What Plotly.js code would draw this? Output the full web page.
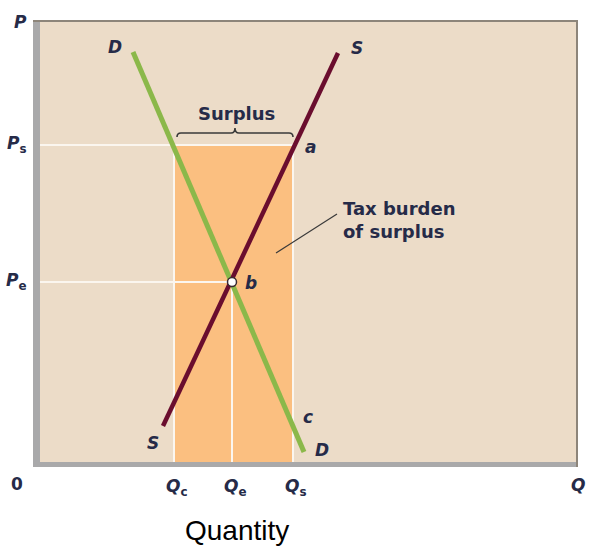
<!DOCTYPE html>
<html>
<head>
<meta charset="utf-8">
<script src="https://cdn.plot.ly/plotly-3.0.1.min.js"></script>
<style>html,body{margin:0;padding:0;background:#fff;}#chart{width:589px;height:551px;}</style>
</head>
<body>
<div id="chart"></div>
<script>
// ---- data (abstract units: quantity 0..537, price 0..441) ----
const qNames = ['c', 'e', 's'];
const qValues = [134, 192, 253];          // Qc, Qe, Qs
const pNames = ['s', 'e'];
const pValues = [317, 180];               // Ps, Pe
const demandQ = [93, 264];
const demandP = [410, 10];
const supplyQ = [123, 298];
const supplyP = [36, 409];
const pointNames = ['a', 'b', 'c'];
const pointQ = [253, 192, 253];
const pointP = [317, 180, 36];
const xMax = 537, yMax = 441;

const Qc = qValues[0], Qe = qValues[1], Qs = qValues[2];
const Ps = pValues[0], Pe = pValues[1];

const navy = '#262b48';
const fam = 'DejaVu Sans';
const white = '#fbf6ef';

const traces = [
  {x:[Qc,Qs,Qs,Qc,Qc], y:[0,0,Ps,Ps,0], mode:'lines', fill:'toself', fillcolor:'#fbbf80', line:{width:0}, hoverinfo:'skip'},
  {x:[0,Qs], y:[Ps,Ps], mode:'lines', line:{color:white,width:2}, hoverinfo:'skip'},
  {x:[0,Qe], y:[Pe,Pe], mode:'lines', line:{color:white,width:2}, hoverinfo:'skip'},
  {x:[Qc,Qc], y:[0,Ps], mode:'lines', line:{color:white,width:2}, hoverinfo:'skip'},
  {x:[Qe,Qe], y:[0,Pe], mode:'lines', line:{color:white,width:2}, hoverinfo:'skip'},
  {x:[Qs,Qs], y:[0,Ps], mode:'lines', line:{color:white,width:2}, hoverinfo:'skip'},
  {x:demandQ, y:demandP, mode:'lines', line:{color:'#8bb84a',width:5}, hoverinfo:'skip'},
  {x:supplyQ, y:supplyP, mode:'lines', line:{color:'#6a0d2e',width:4.5}, hoverinfo:'skip'},
  {x:[pointQ[1]], y:[pointP[1]], mode:'markers', marker:{size:9,color:'#ffffff',line:{color:'#3a2a30',width:1.5}}, hoverinfo:'skip'}
];

const px = v => (v - 40) / xMax;       // pixel x -> paper
const py = v => (462 - v) / yMax;      // pixel y -> paper
const lbl = (t, extra) => Object.assign({text:t, showarrow:false, font:{family:fam,size:17,color:navy}, xanchor:'center', yanchor:'middle'}, extra);

const annotations = [
  lbl('<b><i>P</i></b>', {xref:'paper', yref:'paper', x:px(20), y:py(22)}),
  lbl('<b>0</b>', {xref:'paper', yref:'paper', x:px(17), y:py(484)}),
  lbl('<b><i>Q</i></b>', {xref:'paper', yref:'paper', x:px(578), y:py(485)}),
  lbl('Quantity', {xref:'paper', yref:'paper', x:px(236.5), y:py(530), font:{family:'Liberation Sans',size:28,color:'#000'}}),
  lbl('<b>Surplus</b>', {xref:'x', yref:'y', x:196, y:349, font:{family:fam,size:18,color:navy}}),
  lbl('<b>Tax burden<br>of surplus</b>', {xref:'x', yref:'y', x:301, y:242, xanchor:'left', align:'left', font:{family:fam,size:18,color:navy}}),
  lbl('<b><i>D</i></b>', {xref:'x', yref:'y', x:demandQ[0]-18, y:demandP[0]+5}),
  lbl('<b><i>S</i></b>', {xref:'x', yref:'y', x:supplyQ[1]+19, y:supplyP[1]+5}),
  lbl('<b><i>S</i></b>', {xref:'x', yref:'y', x:supplyQ[0]-10, y:supplyP[0]-17}),
  lbl('<b><i>D</i></b>', {xref:'x', yref:'y', x:demandQ[1]+18, y:demandP[1]+2}),
  lbl('<b><i>' + pointNames[0] + '</i></b>', {xref:'x', yref:'y', x:pointQ[0]+17, y:pointP[0]-2}),
  lbl('<b><i>' + pointNames[1] + '</i></b>', {xref:'x', yref:'y', x:pointQ[1]+19, y:pointP[1]-1}),
  lbl('<b><i>' + pointNames[2] + '</i></b>', {xref:'x', yref:'y', x:pointQ[2]+15, y:pointP[2]+9})
];
qValues.forEach((q, i) => {
  annotations.push(lbl('<b><i>Q</i></b><sub><b>' + qNames[i] + '</b></sub>', {xref:'x', yref:'paper', x:q, y:py(487), xshift:3}));
});
pValues.forEach((p, i) => {
  annotations.push(lbl('<b><i>P</i></b><sub><b>' + pNames[i] + '</b></sub>', {xref:'paper', yref:'y', x:px(17), y:p, yshift:1}));
});

const bx0 = Qc + 3, bx1 = Qs, bm = (bx0 + bx1) / 2, by = 329;
const bracePath = `M ${bx0},${by-4} Q ${bx0},${by} ${bx0+4},${by} L ${bm-4},${by} Q ${bm},${by} ${bm},${by+5} Q ${bm},${by} ${bm+4},${by} L ${bx1-4},${by} Q ${bx1},${by} ${bx1},${by-4}`;

const shapes = [
  {type:'rect', xref:'paper', yref:'paper', x0:px(33), x1:px(40), y0:py(467), y1:py(20), fillcolor:'#a9a9aa', line:{width:0}},
  {type:'rect', xref:'paper', yref:'paper', x0:px(33), x1:px(578), y0:py(467), y1:py(462), fillcolor:'#a9a9aa', line:{width:0}},
  {type:'line', xref:'paper', yref:'paper', x0:px(33), x1:px(578), y0:py(21), y1:py(21), line:{color:'#8d857a',width:2}},
  {type:'line', xref:'paper', yref:'paper', x0:px(577), x1:px(577), y0:py(467), y1:py(21), line:{color:'#8d857a',width:2}},
  {type:'path', xref:'x', yref:'y', path:bracePath, line:{color:'#3a3a3a',width:1.6}},
  {type:'line', xref:'x', yref:'y', x0:236, y0:209, x1:297, y1:248, line:{color:'#3a3a3a',width:1.2}}
];

const layout = {
  width:589, height:551,
  margin:{l:40, r:12, t:21, b:89, pad:0},
  paper_bgcolor:'#ffffff', plot_bgcolor:'#ecdcc8',
  showlegend:false,
  xaxis:{range:[0,xMax], visible:false, fixedrange:true},
  yaxis:{range:[0,yMax], visible:false, fixedrange:true},
  annotations:annotations,
  shapes:shapes
};

Plotly.newPlot('chart', traces, layout, {staticPlot:true, displayModeBar:false});
</script>
</body>
</html>
